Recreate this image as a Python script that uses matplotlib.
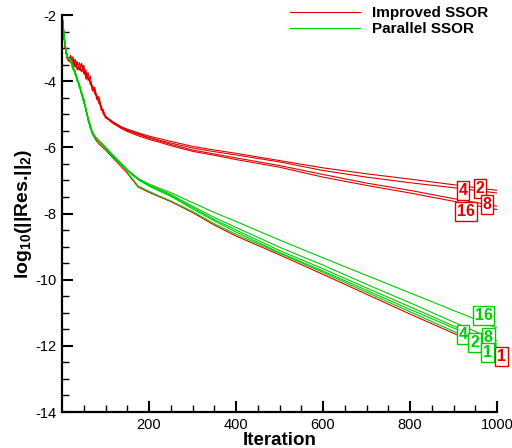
import matplotlib
matplotlib.use('Agg')
import matplotlib.pyplot as plt

plt.rcParams['font.family'] = ['Liberation Sans', 'DejaVu Sans']
plt.rcParams['axes.unicode_minus'] = False
plt.rcParams['mathtext.fontset'] = 'custom'
plt.rcParams['mathtext.rm'] = 'Liberation Sans:bold'
plt.rcParams['mathtext.it'] = 'Liberation Sans:bold'
plt.rcParams['mathtext.bf'] = 'Liberation Sans:bold'

# iteration grid shared by all curves
iters = [0, 3, 6, 9, 12, 15, 20, 25, 30, 35, 40, 45, 50, 55, 60, 65, 70, 75, 80, 85,
         90, 95, 100, 105, 110, 120, 135, 150, 175, 200, 225, 250, 300, 350, 400,
         500, 600, 700, 800, 900, 1000]

# Improved SSOR (red)
imp_1 = [-2.00, -2.40, -2.80, -3.08, -3.28, -3.33, -3.40, -3.62, -3.72, -3.95, -4.12, -4.38, -4.58, -4.88,
         -5.15, -5.38, -5.58, -5.72, -5.82, -5.90, -5.96, -6.02, -6.08, -6.15, -6.22, -6.36, -6.57, -6.78,
         -7.20, -7.36, -7.50, -7.64, -7.97, -8.35, -8.68, -9.25, -9.84, -10.44, -11.04, -11.62, -12.22]
imp_2 = [-2.00, -2.45, -2.85, -3.15, -3.30, -3.35, -3.22, -3.48, -3.34, -3.66, -3.44, -3.70, -3.52, -3.90,
         -3.74, -4.10, -4.14, -4.38, -4.44, -4.68, -4.74, -5.00, -5.06, -5.12, -5.17, -5.27, -5.37, -5.45,
         -5.56, -5.66, -5.74, -5.82, -5.97, -6.08, -6.18, -6.40, -6.62, -6.80, -6.96, -7.13, -7.30]
imp_4 = [-2.00, -2.42, -2.80, -3.12, -3.28, -3.32, -3.40, -3.26, -3.54, -3.40, -3.66, -3.48, -3.74, -3.66,
         -3.98, -3.84, -4.30, -4.18, -4.48, -4.62, -4.80, -4.96, -5.08, -5.14, -5.16, -5.25, -5.38, -5.47,
         -5.59, -5.70, -5.79, -5.87, -6.02, -6.13, -6.23, -6.44, -6.70, -6.90, -7.07, -7.22, -7.38]
imp_8 = [-2.00, -2.40, -2.82, -3.10, -3.32, -3.40, -3.28, -3.56, -3.36, -3.60, -3.66, -3.46, -3.78, -3.74,
         -3.92, -4.00, -4.16, -4.30, -4.44, -4.50, -4.88, -4.86, -5.12, -5.10, -5.20, -5.30, -5.40, -5.49,
         -5.61, -5.72, -5.81, -5.91, -6.08, -6.20, -6.32, -6.55, -6.82, -7.08, -7.30, -7.55, -7.78]
imp_16 = [-2.00, -2.38, -2.78, -3.08, -3.28, -3.36, -3.44, -3.34, -3.58, -3.46, -3.60, -3.72, -3.56, -3.94,
          -3.90, -4.04, -4.26, -4.24, -4.56, -4.48, -4.76, -4.94, -5.04, -5.15, -5.19, -5.29, -5.42, -5.52,
          -5.65, -5.76, -5.85, -5.95, -6.12, -6.24, -6.37, -6.60, -6.90, -7.15, -7.38, -7.63, -7.88]

# Parallel SSOR (green)
par_1 = [-2.00, -2.38, -2.78, -3.05, -3.25, -3.30, -3.38, -3.55, -3.78, -3.88, -4.18, -4.32, -4.62, -4.82,
         -5.18, -5.32, -5.56, -5.66, -5.76, -5.84, -5.91, -5.97, -6.04, -6.11, -6.18, -6.33, -6.54, -6.75,
         -7.17, -7.33, -7.48, -7.62, -7.94, -8.31, -8.63, -9.20, -9.78, -10.38, -10.97, -11.56, -12.15]
par_2 = [-2.00, -2.36, -2.76, -3.04, -3.24, -3.31, -3.35, -3.62, -3.70, -3.98, -4.10, -4.42, -4.55, -4.90,
         -5.10, -5.42, -5.55, -5.68, -5.74, -5.82, -5.88, -5.94, -6.01, -6.08, -6.15, -6.29, -6.49, -6.70,
         -6.98, -7.17, -7.33, -7.48, -7.86, -8.22, -8.56, -9.18, -9.74, -10.32, -10.90, -11.46, -12.02]
par_4 = [-2.00, -2.37, -2.77, -3.06, -3.26, -3.34, -3.32, -3.58, -3.80, -3.92, -4.20, -4.36, -4.66, -4.80,
         -5.20, -5.36, -5.60, -5.70, -5.75, -5.83, -5.89, -5.95, -6.01, -6.08, -6.15, -6.28, -6.48, -6.69,
         -6.97, -7.15, -7.30, -7.45, -7.82, -8.18, -8.50, -9.12, -9.67, -10.25, -10.82, -11.40, -11.95]
par_8 = [-2.00, -2.39, -2.79, -3.07, -3.27, -3.32, -3.42, -3.52, -3.74, -4.00, -4.08, -4.40, -4.52, -4.86,
         -5.12, -5.30, -5.62, -5.64, -5.74, -5.81, -5.87, -5.94, -6.00, -6.07, -6.14, -6.28, -6.48, -6.68,
         -6.96, -7.14, -7.28, -7.42, -7.78, -8.12, -8.42, -9.02, -9.56, -10.14, -10.70, -11.28, -11.85]
par_16 = [-2.00, -2.38, -2.77, -3.05, -3.25, -3.33, -3.36, -3.65, -3.68, -3.96, -4.14, -4.34, -4.64, -4.84,
          -5.14, -5.44, -5.52, -5.66, -5.73, -5.80, -5.86, -5.93, -6.00, -6.07, -6.14, -6.27, -6.47, -6.67,
          -6.94, -7.11, -7.24, -7.37, -7.67, -7.97, -8.24, -8.80, -9.34, -9.87, -10.40, -10.93, -11.46]

# processor-count tags: (text, iteration, value)
imp_tags = [('4', 922, -7.31), ('2', 961, -7.24), ('8', 977, -7.74), ('16', 929, -7.94), ('1', 1011, -12.32)]
par_tags = [('16', 969, -11.08), ('4', 922, -11.65), ('2', 949, -11.90), ('8', 980, -11.75), ('1', 979, -12.20)]

red = '#e00000'
green = '#00cc00'

fig = plt.figure(figsize=(5.12, 4.48), dpi=100)
ax = fig.add_axes([62 / 512, 1 - 412 / 448, 435 / 512, 397 / 448])

for i, ys in enumerate([imp_1, imp_2, imp_4, imp_8, imp_16]):
    ax.plot(iters, ys, color=red, lw=0.8, label='Improved SSOR' if i == 0 else None)
for i, ys in enumerate([par_1, par_2, par_4, par_8, par_16]):
    ax.plot(iters, ys, color=green, lw=0.8, label='Parallel SSOR' if i == 0 else None)

for tags, c in [(imp_tags, red), (par_tags, green)]:
    for s, xv, yv in tags:
        ax.text(xv, yv, s, color=c, fontsize=11.5, fontweight='bold', ha='center', va='center',
                clip_on=False, zorder=5,
                bbox=dict(boxstyle='square,pad=0.12', fc='white', ec=c, lw=1.0))

ax.set_xlim(0, 1000)
ax.set_ylim(-14, -2)
ax.set_xticks([200, 400, 600, 800, 1000])
ax.set_xticks(range(50, 1000, 50), minor=True)
ax.set_yticks(range(-14, -1, 2))
ax.set_yticks([v / 2 for v in range(-27, -4, 1)], minor=True)
ax.tick_params(which='major', direction='in', length=8, width=1.5, labelsize=10.5, pad=4)
ax.tick_params(which='minor', direction='in', length=5, width=1.0)
ax.spines['top'].set_visible(False)
ax.spines['right'].set_visible(False)
ax.spines['left'].set_linewidth(1.6)
ax.spines['bottom'].set_linewidth(1.6)

ax.set_xlabel('Iteration', fontsize=13.5, fontweight='bold', labelpad=0)
ax.set_ylabel(r'log$_{10}$(||Res.||$_{2}$)', fontsize=14, fontweight='bold', labelpad=1)

fig.legend(loc='upper left', bbox_to_anchor=(290 / 512, 1 - 6 / 448), frameon=False,
           prop={'weight': 'bold', 'size': 11}, handlelength=4.6, handletextpad=0.8,
           labelspacing=0.15, borderpad=0, borderaxespad=0)

fig.savefig('out.png', dpi=100)
